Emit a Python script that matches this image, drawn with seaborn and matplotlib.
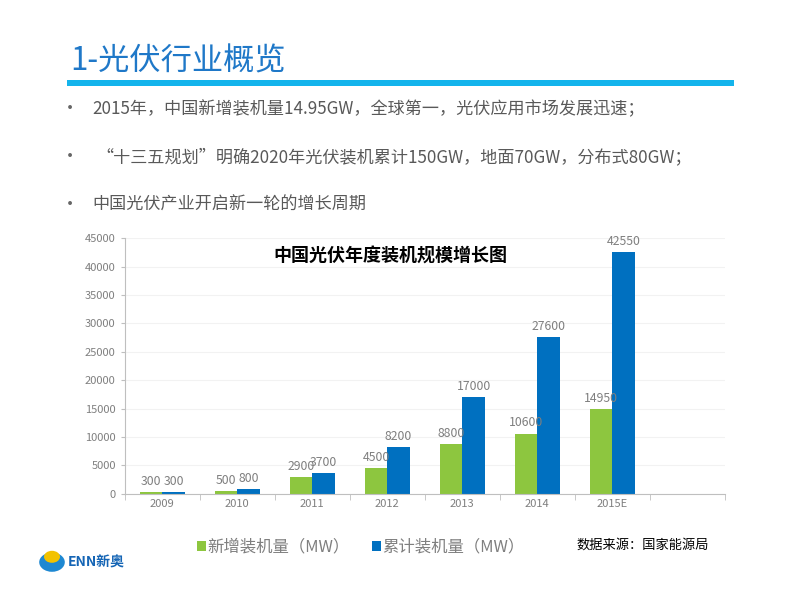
import pandas as pd
import seaborn as sns
import matplotlib.pyplot as plt
from matplotlib.patches import Rectangle, Circle

# ==========================================
# DATA
# ==========================================

years = ["2009", "2010", "2011", "2012", "2013", "2014", "2015E"]
new_mw = [300, 500, 2900, 4500, 8800, 10600, 14950]
total_mw = [300, 800, 3700, 8200, 17000, 27600, 42550]
series_names = ["新增装机量（MW）", "累计装机量（MW）"]
bullets = [
    "2015年，中国新增装机量14.95GW，全球第一，光伏应用市场发展迅速；",
    "“十三五规划”明确2020年光伏装机累计150GW，地面70GW，分布式80GW；",
    "中国光伏产业开启新一轮的增长周期",
]

df = pd.DataFrame({
    "year": years * 2,
    "value": new_mw + total_mw,
    "series": [series_names[0]] * len(years) + [series_names[1]] * len(years),
})

# ==========================================
# STYLE
# ==========================================

sns.set_style("white")
plt.rcParams["font.family"] = ["Noto Sans CJK SC", "DejaVu Sans"]

green = "#8DC63F"
blue = "#0070C0"
gray = "#7F7F7F"

fig = plt.figure(figsize=(8, 6), dpi=100)

# slide header
fig.text(0.088, 0.898, "1-光伏行业概览", fontsize=22.5, color="#1F78C8",
         va="center", ha="left")
fig.add_artist(Rectangle((0.084, 0.857), 0.833, 0.009,
                         transform=fig.transFigure, color="#14B4EC", lw=0))

for i, line in enumerate(bullets):
    y = 0.818 - i * 0.08
    fig.text(0.088, y, "•", fontsize=13, color="#666666", va="center",
             ha="center")
    fig.text(0.115 if i != 1 else 0.121, y, line, fontsize=12.3,
             color="#595959", va="center")

# ==========================================
# CHART
# ==========================================

ax = fig.add_axes([0.156, 0.177, 0.750, 0.426])

sns.barplot(
    data=df,
    x="year",
    y="value",
    hue="series",
    order=years + [" "],
    palette=[green, blue],
    width=0.6,
    saturation=1,
    linewidth=0,
    legend=False,
    ax=ax,
)

for container in ax.containers:
    ax.bar_label(container, fontsize=8.8, color=gray, padding=3)

ax.set_ylim(0, 45000)
ax.set_yticks(range(0, 45001, 5000))
ax.set_xlim(-0.5, 7.5)
ax.set_xlabel("")
ax.set_ylabel("")
ax.yaxis.grid(True, color="#F2F2F2", lw=0.8)
ax.set_axisbelow(True)

for side in ["top", "right"]:
    ax.spines[side].set_visible(False)
for side in ["left", "bottom"]:
    ax.spines[side].set_color("#BFBFBF")
    ax.spines[side].set_linewidth(0.8)

ax.tick_params(axis="y", labelsize=8, colors=gray, length=3, left=True,
               color="#BFBFBF")
ax.set_xticks([i + 0.5 for i in range(-1, 8)], minor=True)
ax.tick_params(axis="x", which="major", labelsize=8, colors=gray, length=0)
ax.tick_params(axis="x", which="minor", length=4, bottom=True,
               color="#BFBFBF")

ax.text(0.442, 0.93, "中国光伏年度装机规模增长图", transform=ax.transAxes,
        ha="center", va="center", fontsize=13, fontweight="bold",
        color="black")

# legend
for x0, color, name in [(0.246, green, series_names[0]),
                        (0.465, blue, series_names[1])]:
    fig.add_artist(Rectangle((x0, 0.082), 0.011, 0.016,
                             transform=fig.transFigure, color=color, lw=0))
    fig.text(x0 + 0.013, 0.089, name, fontsize=11.8, color=gray,
             va="center")

fig.text(0.72, 0.091, "数据来源：国家能源局", fontsize=9.5, color="black",
         va="center")

# logo
fig.add_artist(Circle((0.065, 0.063), 0.016, transform=fig.transFigure,
                      color="#1E88D2", lw=0))
fig.add_artist(Circle((0.065, 0.072), 0.010, transform=fig.transFigure,
                      color="#F2C200", lw=0))
fig.text(0.085, 0.063, "ENN新奥", fontsize=10, color="#1565B5",
         fontweight="bold", va="center")

plt.savefig("out.png", dpi=100)
